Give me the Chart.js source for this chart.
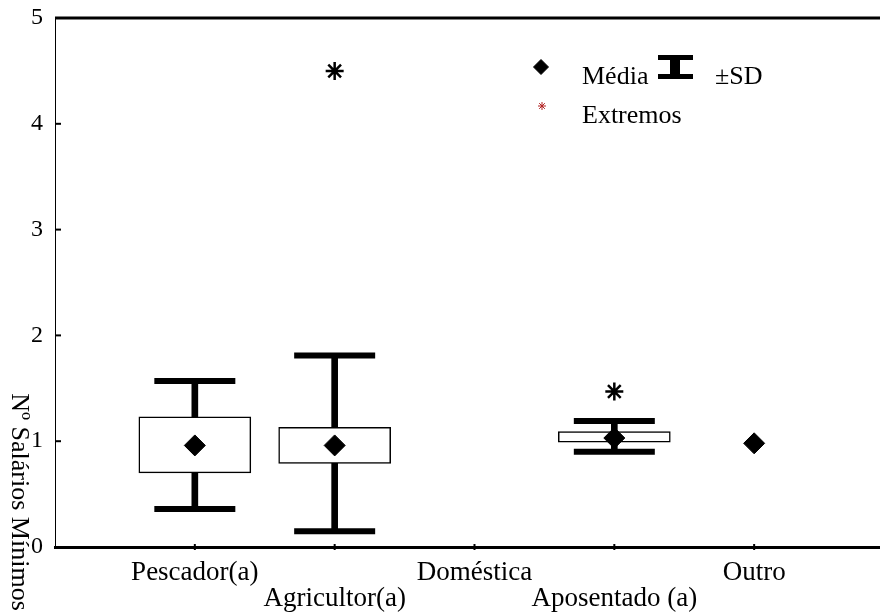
<!DOCTYPE html>
<html>
<head>
<meta charset="utf-8">
<script src="https://cdn.jsdelivr.net/npm/chart.js@4"></script>
<style>
  html, body { margin: 0; padding: 0; background: #fff; overflow: hidden; }
  #wrap { width: 880px; height: 616px; }
</style>
</head>
<body>
<div id="wrap"><canvas id="boxChart" width="880" height="616"></canvas></div>
<script>
// values
const categories = ['Pescador(a)', 'Agricultor(a)', 'Doméstica', 'Aposentado (a)', 'Outro'];
const means    = [0.96, 0.96, null, 1.03, 0.98];
const boxLow   = [0.70, 0.79, null, 0.99, null];
const boxHigh  = [1.23, 1.13, null, 1.09, null];
const sdLow    = [0.36, 0.15, null, 0.90, null];
const sdHigh   = [1.57, 1.81, null, 1.19, null];
const extremes = [null, 4.50, null, 1.47, null];
const yTicks   = [0, 1, 2, 3, 4, 5];

const FONT = '"Liberation Serif", "Times New Roman", serif';

function points(values) {
  const out = [];
  values.forEach((v, i) => { if (v !== null) out.push({ x: i + 1, y: v }); });
  return out;
}
function ranges(lo, hi) {
  const out = [];
  lo.forEach((v, i) => { if (v !== null) out.push({ x: i + 1, y: [v, hi[i]] }); });
  return out;
}

// frame lines, inward ticks, y title and the legend box
const decorations = {
  id: 'decorations',
  afterDraw(chart) {
    const ctx = chart.ctx;
    const area = chart.chartArea;
    const y = chart.scales.y;
    ctx.save();
    ctx.strokeStyle = '#000';
    // top line
    ctx.lineWidth = 3;
    ctx.beginPath();
    ctx.moveTo(area.left, area.top);
    ctx.lineTo(area.right, area.top);
    ctx.stroke();
    // ticks on the left axis
    ctx.lineWidth = 2;
    yTicks.forEach(t => {
      const py = y.getPixelForValue(t);
      ctx.beginPath();
      ctx.moveTo(area.left, py);
      ctx.lineTo(area.left + 6, py);
      ctx.stroke();
    });
    // small ticks on the bottom axis
    const x = chart.scales.x;
    categories.forEach((c, i) => {
      const px = x.getPixelForValue(i + 1);
      ctx.beginPath();
      ctx.moveTo(px, area.bottom - 3);
      ctx.lineTo(px, area.bottom + 3);
      ctx.stroke();
    });

    // y title, rotated clockwise
    ctx.fillStyle = '#000';
    ctx.font = '26px ' + FONT;
    ctx.translate(12, 502);
    ctx.rotate(Math.PI / 2);
    ctx.textAlign = 'center';
    ctx.textBaseline = 'alphabetic';
    ctx.fillText('Nº Salários Mínimos', 0, 0);
    ctx.restore();

    // legend
    ctx.save();
    ctx.fillStyle = '#000';
    ctx.strokeStyle = '#000';
    ctx.font = '26px ' + FONT;
    ctx.textBaseline = 'alphabetic';
    Chart.helpers.drawPoint(ctx, { pointStyle: 'rectRot', rotation: 0, radius: 7.5, borderWidth: 1 }, 541, 67);
    ctx.fillText('Média', 582, 84);
    ctx.fillRect(658, 55, 35, 5);
    ctx.fillRect(670, 57, 10, 20);
    ctx.fillRect(658, 74, 35, 5);
    ctx.fillText('±SD', 715, 84);
    ctx.strokeStyle = '#b22222';
    Chart.helpers.drawPoint(ctx, { pointStyle: 'star', rotation: 0, radius: 4, borderWidth: 1.2 }, 542, 106);
    ctx.fillText('Extremos', 582, 123);
    ctx.restore();
  }
};

const ctx = document.getElementById('boxChart').getContext('2d');
new Chart(ctx, {
  data: {
    datasets: [
      {
        type: 'scatter',
        label: 'Média',
        data: points(means),
        pointStyle: 'rectRot',
        pointRadius: 10.5,
        pointBackgroundColor: '#000',
        pointBorderColor: '#000',
        pointBorderWidth: 1,
        order: 1
      },
      {
        type: 'scatter',
        label: 'Extremos',
        data: points(extremes),
        pointStyle: 'star',
        pointRadius: 9,
        pointBorderColor: '#000',
        pointBorderWidth: 2.5,
        order: 2
      },
      {
        type: 'scatter',
        label: 'caps',
        data: points(sdLow).concat(points(sdHigh)),
        pointStyle: 'line',
        pointRadius: 40.5,
        pointBorderColor: '#000',
        pointBorderWidth: 6,
        order: 3
      },
      {
        type: 'bar',
        label: 'box',
        data: ranges(boxLow, boxHigh),
        backgroundColor: '#fff',
        borderColor: '#000',
        borderWidth: 1.5,
        borderSkipped: false,
        barThickness: 112,
        grouped: false,
        order: 4
      },
      {
        type: 'bar',
        label: '±SD',
        data: ranges(sdLow, sdHigh),
        backgroundColor: '#000',
        borderWidth: 0,
        barThickness: 6,
        grouped: false,
        order: 5
      }
    ]
  },
  options: {
    responsive: false,
    animation: false,
    layout: { autoPadding: false, padding: { top: 18, right: 0, left: 0, bottom: 0 } },
    plugins: {
      legend: { display: false },
      tooltip: { enabled: false }
    },
    scales: {
      x: {
        type: 'linear',
        min: 0,
        max: 5.9,
        offset: false,
        grid: { display: false, drawTicks: false, offset: false },
        border: { display: true, color: '#000', width: 3 },
        afterBuildTicks: scale => {
          scale.ticks = categories.map((c, i) => ({ value: i + 1 }));
        },
        afterFit: scale => {
          scale.height = 69;
          scale.paddingLeft = 0;
          scale.paddingRight = 0;
        },
        ticks: {
          autoSkip: false,
          maxRotation: 0,
          padding: 13,
          color: '#000',
          font: { family: FONT, size: 27, lineHeight: 0.97 },
          callback: value => {
            const i = value - 1;
            return i % 2 === 0 ? categories[i] : ['', categories[i]];
          }
        }
      },
      y: {
        min: 0,
        max: 5,
        grid: { display: false, drawTicks: false },
        border: { display: true, color: '#000', width: 1 },
        afterBuildTicks: scale => {
          scale.ticks = yTicks.map(v => ({ value: v }));
        },
        afterFit: scale => {
          scale.width = 55;
          scale.paddingTop = 0;
          scale.paddingBottom = 0;
        },
        ticks: {
          padding: 12,
          color: '#000',
          font: { family: FONT, size: 24 }
        }
      }
    }
  },
  plugins: [decorations]
});
</script>
</body>
</html>
